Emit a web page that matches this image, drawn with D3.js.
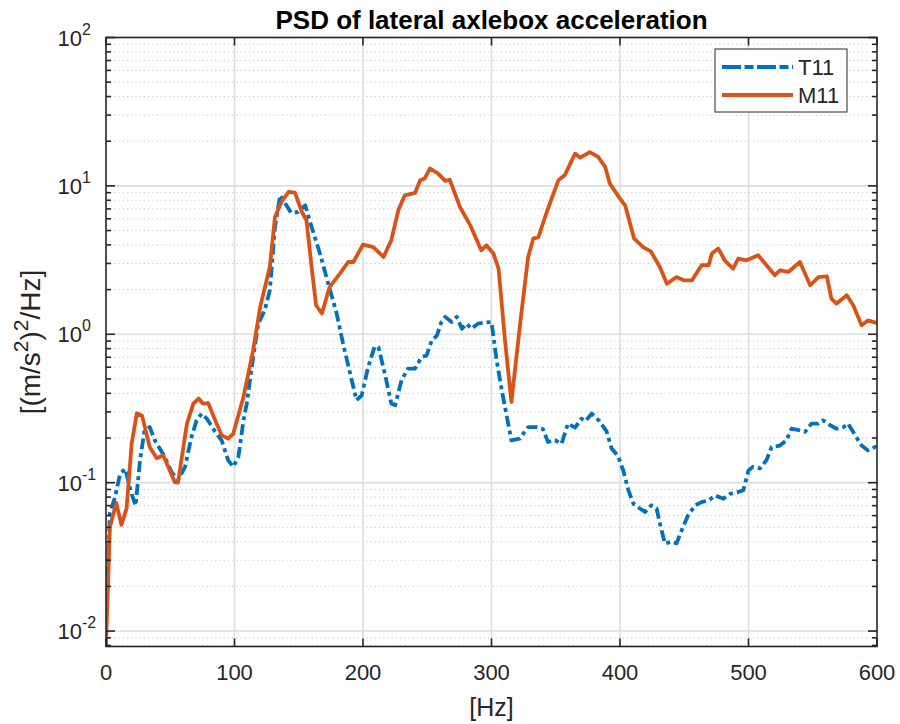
<!DOCTYPE html>
<html>
<head>
<meta charset="utf-8">
<script src="https://cdn.jsdelivr.net/npm/d3@7"></script>
<style>
  html, body { margin: 0; padding: 0; background: #fff; }
  svg text { font-family: "Liberation Sans", Arial, Helvetica, sans-serif; fill: #262626; }
</style>
</head>
<body>
<svg id="chart" width="900" height="724"></svg>
<script>
// PSD estimates (frequency in Hz, PSD in (m/s^2)^2/Hz)
const t11Freq = [0,3,7,11,15,19,23,26.5,30,34,38,45,51,56,61.5,66.5,70.5,74.5,78.5,85,90,95,99,103,107,109.5,114.5,118.5,123.5,127.5,131.5,135.5,139.5,144,149.5,155,160,166.5,173,179.5,184.5,190,195,199,204,209,212,217,222,225,230,235,240.5,245.5,249.5,253.5,257.5,261,264,269,273,277,280.5,284.5,289.5,295,300,304,308,312,315.5,322,328.5,335,340,344,349.5,354.5,359.5,365,370,373,378,384,389.5,393.5,398.5,402.5,406.5,410.5,415.5,419.5,424.5,428.5,431,435,440,444,448,453,458.5,463.5,469,474,480.5,485.5,491,496,500,503.5,509,514,518,524.5,529.5,533.5,539,544,549,554.5,558,563.5,568.5,574,577.5,583,588,593,598.5,600];
const t11Psd = [0.0113,0.062,0.08,0.115,0.124,0.089,0.07,0.142,0.225,0.237,0.193,0.153,0.118,0.104,0.128,0.203,0.263,0.292,0.27,0.22,0.193,0.142,0.128,0.149,0.263,0.34,0.70,1.18,1.45,1.98,5.28,8.64,7.6,6.6,6.67,7.4,5.28,3.5,2.19,1.38,0.865,0.543,0.359,0.388,0.603,0.822,0.82,0.543,0.341,0.332,0.49,0.587,0.587,0.70,0.72,0.91,0.98,1.21,1.31,1.21,1.31,1.09,1.18,1.09,1.18,1.2,1.21,0.668,0.42,0.277,0.193,0.198,0.237,0.237,0.23,0.188,0.193,0.183,0.25,0.235,0.27,0.26,0.292,0.26,0.222,0.17,0.151,0.121,0.089,0.072,0.067,0.0635,0.0704,0.067,0.053,0.0389,0.04,0.039,0.0478,0.0603,0.0704,0.074,0.076,0.082,0.078,0.084,0.086,0.089,0.121,0.128,0.125,0.142,0.174,0.178,0.193,0.231,0.226,0.22,0.25,0.25,0.263,0.244,0.231,0.237,0.25,0.209,0.178,0.165,0.174,0.165];

const m11Freq = [0,3,8,12,16,20,24,28,34,39.5,44.5,53.5,56,63,68,72,75.5,79.5,85,90,95,99,107,114.5,120,127.5,131.5,136.5,142,147,152.5,156,160,163.5,168,174,182,188.5,192.5,200,208,216,222,227.5,232.5,240.5,244.5,248,252,258.5,264,267.5,275.5,283.5,292,296,301.5,305.5,310.5,315.5,322,328.5,332.5,336.5,343,352,357,365,369,376.5,383,388.5,392,400,404,411,418,424,431,436.5,444,449.5,456,463.5,469,471.5,476.5,481.5,488,492,498.5,507.5,514,520.5,524.5,531,540,548,554.5,561,564.5,568.5,576.5,581.5,588,593,600];
const m11Psd = [0.0079,0.05,0.073,0.052,0.067,0.184,0.293,0.284,0.174,0.146,0.153,0.101,0.1,0.25,0.341,0.369,0.341,0.344,0.263,0.209,0.198,0.214,0.378,0.78,1.53,2.84,6.17,7.77,9.1,9.0,6.67,5.87,2.84,1.57,1.38,2.08,2.56,3.07,3.07,4.02,3.87,3.32,4.3,6.85,8.64,8.96,10.9,11.2,13.1,12.1,10.8,11.0,7.2,5.42,3.68,3.98,3.5,2.77,0.91,0.35,1.12,3.32,4.41,4.52,6.67,10.9,11.8,16.5,15.5,16.9,15.7,13.4,10.4,8.2,7.4,4.41,3.87,3.62,2.84,2.19,2.43,2.31,2.31,2.92,2.92,3.5,3.78,3.15,2.77,3.24,3.15,3.41,2.92,2.5,2.7,2.63,3.07,2.14,2.43,2.46,1.74,1.61,1.83,1.57,1.15,1.24,1.19];

const seriesNames = ["T11", "M11"];
const seriesColors = ["#0072BD", "#D95319"];
const xTicks = [0, 100, 200, 300, 400, 500, 600];
const yDecades = [-2, -1, 0, 1, 2];
const chartTitle = "PSD of lateral axlebox acceleration";

const svg = d3.select("#chart");
const W = 900, H = 724;
const margin = { left: 106, right: 23, top: 37.5, bottom: 77.5 };
const x0 = margin.left, x1 = W - margin.right;
const y0 = H - margin.bottom, y1 = margin.top;

const x = d3.scaleLinear().domain([0, 600]).range([x0, x1]);
const y = d3.scaleLog().domain([0.00787, 100]).range([y0, y1]);

svg.append("rect").attr("width", W).attr("height", H).attr("fill", "#fff");

// grid
const grid = svg.append("g");
const minorVals = [];
for (let d = -3; d < 2; d++) for (let k = 2; k <= 9; k++) {
  const v = k * Math.pow(10, d);
  if (v > y.domain()[0] && v < 100) minorVals.push(v);
}
grid.selectAll(".minor").data(minorVals).join("line")
  .attr("x1", x0).attr("x2", x1)
  .attr("y1", d => y(d)).attr("y2", d => y(d))
  .attr("stroke", "#c8c8c8").attr("stroke-width", 1)
  .attr("stroke-dasharray", "1.2,3");
grid.selectAll(".majY").data(yDecades.map(e => Math.pow(10, e))).join("line")
  .attr("x1", x0).attr("x2", x1)
  .attr("y1", d => y(d)).attr("y2", d => y(d))
  .attr("stroke", "#dedede").attr("stroke-width", 1.6);
grid.selectAll(".majX").data(xTicks.slice(1, -1)).join("line")
  .attr("x1", d => x(d)).attr("x2", d => x(d))
  .attr("y1", y0).attr("y2", y1)
  .attr("stroke", "#dedede").attr("stroke-width", 1.6);

// data lines
svg.append("clipPath").attr("id", "plotClip").append("rect")
  .attr("x", x0).attr("y", y1).attr("width", x1 - x0).attr("height", y0 - y1);

const line = d3.line().x(d => x(d[0])).y(d => y(d[1]));
const t11 = t11Freq.map((f, i) => [f, t11Psd[i]]);
const m11 = m11Freq.map((f, i) => [f, m11Psd[i]]);

const plot = svg.append("g").attr("clip-path", "url(#plotClip)");
plot.append("path").attr("d", line(t11))
  .attr("fill", "none").attr("stroke", seriesColors[0]).attr("stroke-width", 3.8)
  .attr("stroke-dasharray", "11,4,4,4").attr("stroke-linejoin", "round");
plot.append("path").attr("d", line(m11))
  .attr("fill", "none").attr("stroke", seriesColors[1]).attr("stroke-width", 3.8)
  .attr("stroke-linejoin", "round");

// axes box and ticks
const ax = svg.append("g").attr("stroke", "#262626");
ax.append("rect").attr("x", x0).attr("y", y1).attr("width", x1 - x0).attr("height", y0 - y1)
  .attr("fill", "none").attr("stroke-width", 1.6);

const majorY = yDecades.map(e => Math.pow(10, e));
[x0, x1].forEach((xe, side) => {
  const dir = side === 0 ? 1 : -1;
  ax.selectAll(null).data(majorY).join("line")
    .attr("x1", xe).attr("x2", xe + dir * 9)
    .attr("y1", d => y(d)).attr("y2", d => y(d)).attr("stroke-width", 1.6);
  ax.selectAll(null).data(minorVals).join("line")
    .attr("x1", xe).attr("x2", xe + dir * 5)
    .attr("y1", d => y(d)).attr("y2", d => y(d)).attr("stroke-width", 1.6);
});
[y0, y1].forEach((ye, side) => {
  const dir = side === 0 ? -1 : 1;
  ax.selectAll(null).data(xTicks).join("line")
    .attr("x1", d => x(d)).attr("x2", d => x(d))
    .attr("y1", ye).attr("y2", ye + dir * 8).attr("stroke-width", 1.6);
});

// tick labels
svg.selectAll(".xt").data(xTicks).join("text")
  .attr("x", d => x(d)).attr("y", y0 + 33)
  .attr("text-anchor", "middle").attr("font-size", 22)
  .text(d => d);

const yt = svg.selectAll(".yt").data(yDecades).join("text")
  .attr("y", d => y(Math.pow(10, d)) + 8)
  .attr("font-size", 22);
yt.append("tspan").text("10");
yt.append("tspan").attr("dy", -11).attr("font-size", 16).text(d => String(d));
// base "10" ends at a fixed x, exponent follows it
yt.each(function() {
  const base = this.firstChild.getComputedTextLength();
  d3.select(this).attr("x", 82 - base);
});

// axis labels and title
svg.append("text").attr("x", (x0 + x1) / 2).attr("y", 716)
  .attr("text-anchor", "middle").attr("font-size", 25).text("[Hz]");

const yl = svg.append("text")
  .attr("transform", `translate(40,${(y0 + y1) / 2}) rotate(-90)`)
  .attr("text-anchor", "middle").attr("font-size", 28);
yl.append("tspan").text("[(m/s");
yl.append("tspan").attr("dy", -12).attr("font-size", 21).text("2");
yl.append("tspan").attr("dy", 12).text(")");
yl.append("tspan").attr("dy", -12).attr("font-size", 21).text("2");
yl.append("tspan").attr("dy", 12).text("/Hz]");

svg.append("text").attr("x", (x0 + x1) / 2).attr("y", 29)
  .attr("text-anchor", "middle").attr("font-size", 26).attr("font-weight", "bold")
  .style("fill", "#000").text(chartTitle);

// legend
const lg = svg.append("g").attr("transform", "translate(715,49)");
lg.append("rect").attr("width", 132).attr("height", 63)
  .attr("fill", "#fff").attr("stroke", "#262626").attr("stroke-width", 1);
seriesNames.forEach((name, i) => {
  const ly = 18 + i * 28;
  lg.append("line").attr("x1", 7).attr("x2", 78).attr("y1", ly).attr("y2", ly)
    .attr("stroke", seriesColors[i]).attr("stroke-width", 3.8)
    .attr("stroke-dasharray", i === 0 ? "19,3.5,9,3.5" : null);
  lg.append("text").attr("x", 83).attr("y", ly + 8).attr("font-size", 22).text(name);
});
</script>
</body>
</html>
